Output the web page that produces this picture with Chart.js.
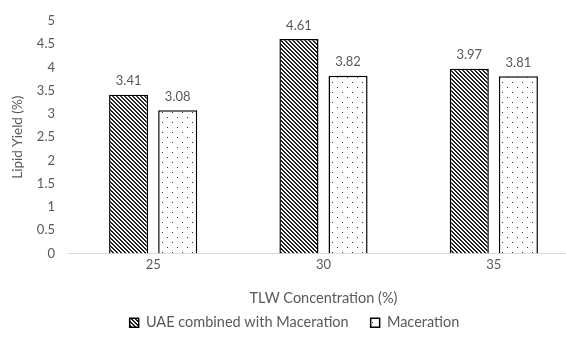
<!DOCTYPE html>
<html>
<head>
<meta charset="utf-8">
<script src="https://cdn.jsdelivr.net/npm/chart.js@4"></script>
<style>
  html, body { margin: 0; padding: 0; background: #fff; overflow: hidden; }
  #wrap { width: 566px; height: 345px; overflow: hidden; }
  #c { display: block; }
</style>
</head>
<body>
<div id="wrap"><canvas id="c" width="579" height="345"></canvas></div>
<script>
const categories = ['25', '30', '35'];
const uaeValues = [3.41, 4.61, 3.97];
const macerationValues = [3.08, 3.82, 3.81];
const seriesNames = ['UAE combined with Maceration', 'Maceration'];

const FONT = 'Lato, "Open Sans", "Liberation Sans", sans-serif';
const TEXT = '#595959';

// Diagonal hatch fill: lines running top-left to bottom-right
function hatchPattern() {
  const t = document.createElement('canvas');
  t.width = 4; t.height = 4;
  const g = t.getContext('2d');
  g.fillStyle = '#fff';
  g.fillRect(0, 0, 4, 4);
  g.fillStyle = '#222';
  for (let i = 0; i < 4; i++) {
    g.fillRect(i, i, 1, 1);
    g.fillRect((i + 1) % 4, i, 1, 1);
  }
  return document.getElementById('c').getContext('2d').createPattern(t, 'repeat');
}

// Sparse staggered dot fill
function dotPattern() {
  const t = document.createElement('canvas');
  t.width = 10; t.height = 10;
  const g = t.getContext('2d');
  g.fillStyle = '#fff';
  g.fillRect(0, 0, 10, 10);
  g.fillStyle = '#333';
  g.fillRect(2, 2, 1, 1);
  g.fillRect(7, 7, 1, 1);
  return document.getElementById('c').getContext('2d').createPattern(t, 'repeat');
}

// Value labels above each bar
const valueLabels = {
  id: 'valueLabels',
  afterDatasetsDraw(chart) {
    const ctx = chart.ctx;
    ctx.save();
    ctx.font = '13px ' + FONT;
    ctx.fillStyle = TEXT;
    ctx.textAlign = 'center';
    ctx.textBaseline = 'bottom';
    chart.data.datasets.forEach((ds, di) => {
      chart.getDatasetMeta(di).data.forEach((bar, i) => {
        ctx.fillText(ds.data[i].toFixed(2), bar.x, bar.y - 7);
      });
    });
    ctx.restore();
  }
};

new Chart(document.getElementById('c'), {
  type: 'bar',
  data: {
    labels: categories,
    datasets: [
      {
        label: seriesNames[0],
        data: uaeValues,
        backgroundColor: hatchPattern(),
        borderColor: '#000',
        borderWidth: 1.5,
        categoryPercentage: 0.5765,
        barPercentage: 0.796
      },
      {
        label: seriesNames[1],
        data: macerationValues,
        backgroundColor: dotPattern(),
        borderColor: '#000',
        borderWidth: 1.5,
        categoryPercentage: 0.5765,
        barPercentage: 0.796
      }
    ]
  },
  options: {
    responsive: false,
    animation: false,
    layout: { padding: { top: 12, right: 0, left: 10, bottom: 5 } },
    plugins: {
      legend: {
        position: 'bottom',
        labels: {
          boxWidth: 9,
          boxHeight: 9,
          color: TEXT,
          font: { family: FONT, size: 14.5 },
          padding: 22
        }
      },
      tooltip: { enabled: false }
    },
    scales: {
      x: {
        grid: { display: false, drawTicks: false },
        border: { display: true, color: '#d9d9d9', width: 1 },
        ticks: { color: TEXT, font: { family: FONT, size: 13 }, padding: 4 },
        title: {
          display: true,
          text: 'TLW Concentration (%)',
          color: TEXT,
          font: { family: FONT, size: 14.5 },
          padding: { top: 13, bottom: -14 }
        }
      },
      y: {
        min: 0,
        max: 5,
        afterFit(scale) { scale.width = 58; },
        grid: { display: false, drawTicks: false },
        border: { display: false },
        ticks: {
          stepSize: 0.5,
          color: TEXT,
          font: { family: FONT, size: 13 },
          padding: 13,
          callback: v => String(Number(v.toFixed(1)))
        },
        title: {
          display: true,
          text: 'Lipid Yield (%)',
          color: TEXT,
          font: { family: FONT, size: 13.5 },
          padding: { top: 0, bottom: 4 }
        }
      }
    }
  },
  plugins: [valueLabels]
});
</script>
</body>
</html>
